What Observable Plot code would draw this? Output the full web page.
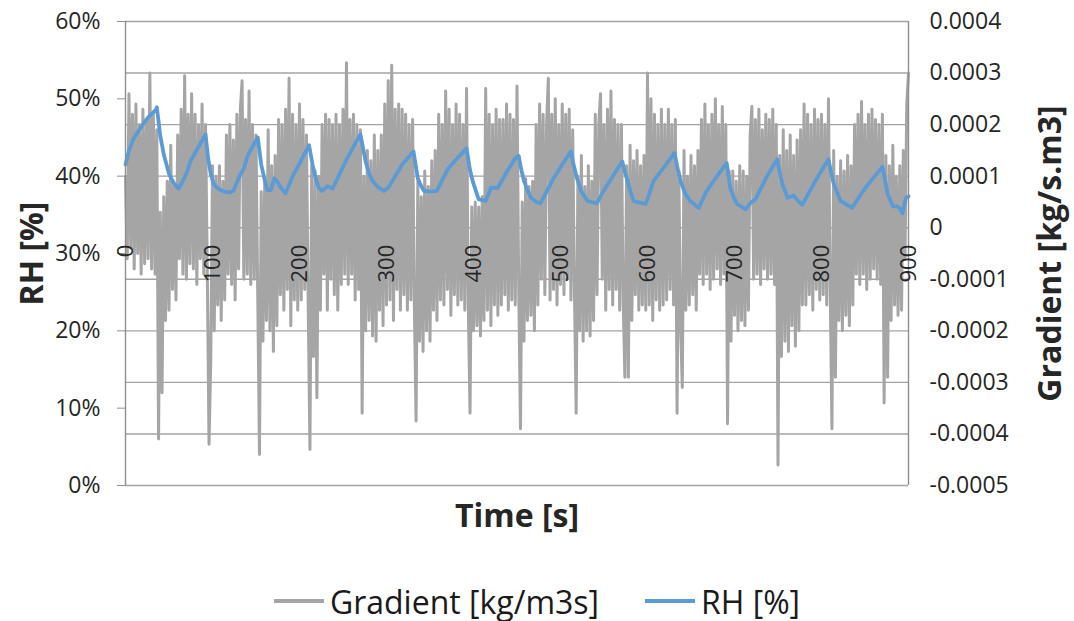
<!DOCTYPE html>
<html>
<head>
<meta charset="utf-8">
<script src="https://cdn.jsdelivr.net/npm/d3@7"></script>
<script src="https://cdn.jsdelivr.net/npm/@observablehq/plot@0.6"></script>
<style>
  html, body { margin: 0; padding: 0; background: #fff; }
  body { width: 1074px; height: 621px; position: relative; overflow: hidden; font-family: "Open Sans", sans-serif; }
  #legend { position: absolute; left: 0; top: 580px; width: 1074px; height: 42px; display: flex; justify-content: center; align-items: center; gap: 46px; font-size: 32px; color: #1a1a1a; }
  #legend .item { display: flex; align-items: center; }
  #legend .sw { display: inline-block; width: 50px; height: 4px; margin-right: 6px; }
</style>
</head>
<body>
<div id="chart"></div>
<div id="legend"></div>
<script>
// ---- Data ----
const xTicks = [0, 100, 200, 300, 400, 500, 600, 700, 800, 900];
const rhTicks = [0, 10, 20, 30, 40, 50, 60];               // RH [%]
const gradTicks = [-5, -4, -3, -2, -1, 0, 1, 2, 3, 4];      // gradient, units of 1e-4

// RH [%] vs time [s]
const rhTime = [0,4,9,17,26,35,36,40,44,50,56,61,66,71,75,83,92,95,98,101,105,113,120,124,132,136,141,147,152,156,159,163,167,171,174,178,184,193,197,203,211,215,218,222,226,232,238,245,253,262,270,276,280,284,290,297,302,310,318,331,336,340,343,350,358,364,371,382,392,396,399,403,406,414,417,420,428,438,448,452,455,458,462,466,472,477,484,492,502,512,515,519,524,531,537,542,550,557,564,571,574,577,581,584,590,598,607,620,631,635,638,643,649,659,667,678,691,695,699,703,713,718,724,736,749,752,755,761,768,773,778,793,808,811,814,822,835,845,854,870,873,876,882,887,890,893,897,900];
const rhValue = [41.5,43.3,44.8,46.2,47.6,48.6,48.9,45.2,42.8,40.3,39.0,38.4,39.4,40.6,42.0,43.6,45.4,42.3,40.3,39.1,38.5,38.0,37.9,38.1,40.2,41.0,42.8,44.0,45.0,41.5,40.0,38.2,38.2,39.7,39.4,38.6,37.8,40.2,41.0,42.3,44.0,41.5,40.0,38.5,38.1,38.7,38.4,40.0,41.9,43.8,45.4,41.9,40.3,39.4,38.6,38.1,38.5,40.0,41.5,43.2,39.7,38.7,38.1,38.0,38.1,39.5,41.0,42.4,43.6,40.8,39.4,38.0,37.0,36.8,37.6,38.5,38.5,40.5,42.3,42.6,40.8,39.4,38.2,37.2,36.7,36.5,38.0,39.7,41.5,43.2,41.5,39.7,38.0,36.8,36.6,36.5,38.2,39.4,40.7,41.9,40.5,39.4,37.8,36.8,36.6,36.4,39.4,41.3,43.0,40.8,39.4,37.8,36.8,35.9,37.9,39.7,41.7,38.5,37.3,36.4,35.7,36.5,37.0,39.7,42.2,40.5,39.0,37.2,37.5,36.8,36.3,39.4,42.2,40.5,39.0,36.8,35.9,37.6,39.0,41.2,39.5,37.7,36.1,36.1,35.8,35.2,37.2,37.4];

// Gradient [kg/m3s] in units of 1e-4, one reading every 2 s from 0 to 900 s
const gradientStep = 2;
const gradientE4 = [
 1.0,-0.6,2.6,-0.4,2.2,-0.8,2.4,-0.5,2.0,-0.9,
 2.3,-0.7,2.1,-0.6,3.0,-0.8,2.2,-0.9,1.9,-4.1,
 0.3,-3.2,0.6,-1.8,0.9,-1.6,1.6,-1.2,0.8,-1.4,
 1.8,-0.6,2.3,-0.9,2.95,-1.0,2.2,-0.7,2.6,-0.8,
 2.2,-1.1,2.0,-0.6,2.4,-0.9,2.0,-0.8,-4.2,-2.6,
 1.2,-2.0,1.0,-1.5,1.2,-1.8,0.9,-1.4,1.8,-0.9,
 2.0,-1.1,1.7,-1.4,2.2,-0.8,2.3,2.85,-1.0,2.1,
 -0.9,2.65,-1.1,2.0,-1.0,1.8,-1.3,-4.4,0.7,-2.2,
 0.9,-1.8,1.9,-2.0,1.2,-2.4,1.4,-1.9,2.1,-1.3,
 2.0,-1.6,2.3,-1.2,2.9,-1.9,2.2,-1.4,2.0,-1.6,
 2.4,-1.4,2.1,-1.2,1.8,-1.5,-4.3,1.2,-2.5,1.1,
 -3.3,1.0,-1.6,2.0,-0.9,2.2,-1.6,2.1,-1.0,2.0,
 -1.3,2.2,-1.6,2.0,-1.1,2.3,-0.9,3.2,-1.1,2.1,
 -0.9,2.2,-1.4,2.0,-1.2,1.9,-3.6,1.0,-2.0,1.5,
 -1.8,1.3,-2.1,1.8,-2.2,1.5,-1.6,1.8,-1.9,2.4,
 -1.5,2.85,-1.4,3.15,-1.8,2.3,-1.2,2.4,-1.6,2.3,
 -1.3,2.2,-1.6,2.0,-1.4,2.1,-1.5,-3.75,0.9,-2.2,
 0.6,-2.4,1.1,-2.0,0.8,-2.2,1.3,-1.6,1.5,-1.8,
 2.2,-1.4,2.0,-1.5,2.65,-1.2,2.3,-1.7,2.0,-1.3,
 2.4,-1.5,2.2,-1.4,2.0,-1.6,2.7,-1.5,-3.6,0.4,
 -2.0,0.5,-1.9,0.4,-2.1,0.6,-1.8,2.7,-1.6,2.2,
 -1.9,2.0,-1.5,2.3,-1.7,2.1,-1.5,2.1,-1.3,2.4,
 -1.6,2.2,-1.4,2.1,-1.5,2.75,-1.2,-3.9,0.5,-2.2,
 0.95,-1.8,0.8,-1.7,0.9,-2.0,2.0,-1.5,2.4,-1.0,
 2.2,-1.3,2.0,2.9,-1.4,2.2,-1.2,2.5,-1.5,2.0,
 -1.1,2.4,-1.3,2.2,-1.0,2.3,-1.4,1.9,-1.2,-3.6,
 1.0,-2.0,1.4,-2.2,0.8,-2.0,1.2,-2.1,0.9,-1.8,
 2.2,-1.3,2.0,2.6,-1.0,2.0,-1.6,2.3,-1.2,2.65,
 -1.5,2.1,-1.2,2.0,-1.6,2.0,-1.4,-2.9,1.2,-2.9,
 1.6,-1.8,1.3,-1.3,1.5,-1.6,1.2,-1.5,1.4,-1.6,
 3.0,-1.5,2.5,-1.8,2.2,-1.4,2.0,-1.6,2.3,-1.5,
 2.0,-1.4,2.3,-1.2,2.0,-1.5,2.1,-3.6,1.1,-1.9,
 -3.1,1.5,-1.6,1.0,-1.5,1.4,-1.3,1.2,-1.6,1.5,
 -0.9,2.1,-1.1,2.4,-0.9,2.0,-1.2,2.2,-1.0,2.5,
 -0.8,2.0,-1.1,2.35,-0.9,2.0,-3.8,1.1,-2.2,1.1,
 -1.7,0.9,-2.0,1.2,-1.8,1.1,-1.9,1.0,-1.6,1.8,
 2.35,-1.0,2.1,-0.9,2.3,-1.1,1.9,-0.8,2.2,-1.0,
 2.1,-0.9,2.3,-1.1,2.0,-4.6,1.4,-2.5,1.9,-2.2,
 1.5,-2.4,1.8,-1.9,1.4,-2.3,1.7,-2.0,1.9,-1.5,
 2.4,-1.5,2.2,-1.3,2.0,-1.6,2.3,-1.2,2.1,-1.4,
 2.2,-1.3,2.0,-1.5,2.5,-1.2,-3.9,1.5,-2.9,1.0,
 -1.8,1.3,-2.0,1.1,-1.7,1.4,-1.9,1.2,-1.5,2.0,
 -0.9,2.2,-1.1,2.45,-0.9,2.0,-1.2,2.2,-1.0,2.3,
 -0.8,2.1,-1.0,2.0,-1.1,2.2,-3.4,1.4,-2.9,1.2,
 -1.8,1.6,-1.5,1.0,-1.7,1.2,-1.6,1.5,-0.6,2.4,
 3.0
];

// ---- Build tables ----
const rh = rhTime.map((t, i) => ({t, v: rhValue[i]}));
const grad = gradientE4.map((g, i) => ({t: i * gradientStep, g}));

// the gradient axis (-0.0005 .. 0.0004) shares the plot height with RH (0 .. 60 %)
const gToY = g => (g + 5) * 60 / 9;
const yToG = y => Math.round(y * 9 / 60 - 5);
const gLabel = g => g === 0 ? "0" : (g / 10000).toFixed(4);

const axisGrey = "#8f8f8f";
const textCol = "#262626";

const chart = Plot.plot({
  width: 1074,
  height: 560,
  marginLeft: 125,
  marginRight: 166,
  marginTop: 21,
  marginBottom: 75,
  style: {fontFamily: "'Open Sans', sans-serif", fontSize: "23px", color: textCol, background: "#fff"},
  x: {domain: [0, 900], axis: null},
  y: {domain: [0, 60]},
  marks: [
    Plot.ruleY(gradTicks.map(gToY), {stroke: "#a3a3a3", strokeWidth: 1.4}),
    Plot.line(grad, {x: "t", y: d => gToY(d.g), stroke: "#a5a5a5", strokeWidth: 3}),
    Plot.line(rh, {x: "t", y: "v", stroke: "#5b9bd5", strokeWidth: 3.8}),
    Plot.ruleX([0, 900], {stroke: axisGrey, strokeWidth: 1.4}),
    Plot.axisY(rhTicks, {anchor: "left", tickSize: 8, tickPadding: 17, tickFormat: d => d + "%", stroke: axisGrey, label: null, fontSize: 23, fill: textCol}),
    Plot.axisY(gradTicks.map(gToY), {anchor: "right", tickSize: 0, tickPadding: 21, tickFormat: y => gLabel(yToG(y)), label: null, fontSize: 23, fill: textCol}),
    Plot.text(xTicks, {x: d => d, y: gToY(0), text: d => String(d), rotate: -90, textAnchor: "end", lineAnchor: "middle", dy: 17, fontSize: 22, fill: textCol}),
    Plot.text(["RH [%]"], {frameAnchor: "left", dx: -93, rotate: -90, textAnchor: "middle", lineAnchor: "middle", fontSize: 32, fontWeight: "bold", fill: textCol}),
    Plot.text(["Gradient [kg/s.m3]"], {frameAnchor: "right", dx: 142, rotate: -90, textAnchor: "middle", lineAnchor: "middle", fontSize: 32, fontWeight: "bold", fill: textCol}),
    Plot.text(["Time [s]"], {frameAnchor: "bottom", dy: 31, textAnchor: "middle", lineAnchor: "middle", fontSize: 32, fontWeight: "bold", fill: textCol})
  ]
});
document.getElementById("chart").appendChild(chart);

// ---- Legend ----
const legendItems = [
  {label: "Gradient [kg/m3s]", color: "#a5a5a5"},
  {label: "RH [%]", color: "#5b9bd5"}
];
const legend = document.getElementById("legend");
for (const it of legendItems) {
  const el = document.createElement("span");
  el.className = "item";
  const sw = document.createElement("span");
  sw.className = "sw";
  sw.style.background = it.color;
  el.appendChild(sw);
  el.appendChild(document.createTextNode(it.label));
  legend.appendChild(el);
}
</script>
</body>
</html>
